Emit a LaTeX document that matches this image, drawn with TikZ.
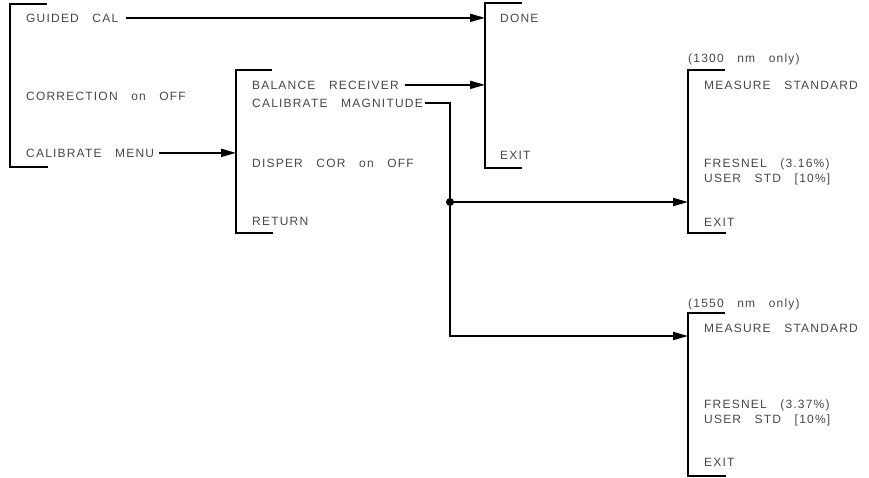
\documentclass[tikz,border=0pt]{standalone}
\usepackage{fontspec}
\usepackage{tikz}
\usetikzlibrary{arrows.meta,calc}
\newfontfamily\plotfont[LetterSpace=10,WordSpace=3]{Liberation Sans}
\definecolor{plotgray}{gray}{0.28}
\tikzset{
  menubar/.style={draw=black, line width=2pt},
  flow/.style={draw=black, line width=2pt, -{Triangle[length=15pt,width=8pt]}},
  key/.style={anchor=base west, inner sep=0pt, text=plotgray, font=\plotfont\fontsize{12}{14}\selectfont}
}

\begin{document}
\begin{tikzpicture}[x=1pt,y=-1pt]
      \useasboundingbox (0,0) rectangle (869,477);
      % menu brackets
      \draw[menubar] (47,4) -| (10,167) -- (48,167);
      \draw[menubar] (272,70) -| (236,233) -- (273,233);
      \draw[menubar] (522,3) -| (485,168) -- (522,168);
      \draw[menubar] (725,70) -| (688,233) -- (726,233);
      \draw[menubar] (725,313) -| (688,476) -- (726,476);
      \coordinate (calmenu) at (236,70);
      \coordinate (done) at (485,3);
      \coordinate (m1300) at (688,70);
      \coordinate (m1550) at (688,313);
      \coordinate (split) at (450,202);
      \coordinate (turn) at (450,336);
      % softkeys
      \node[key] (guided) at (26,22) {GUIDED CAL};
      \node[key] (correct) at (26,100) {CORRECTION on OFF};
      \node[key] (calmnu) at (26,157) {CALIBRATE MENU};
      \node[key] (balance) at (252,89) {BALANCE RECEIVER};
      \node[key] (calmag) at (252,107) {CALIBRATE MAGNITUDE};
      \node[key] (disper) at (252,167) {DISPER COR on OFF};
      \node[key] (return) at (252,225) {RETURN};
      \node[key] (donekey) at (500,22) {DONE};
      \node[key] (exitdone) at (500,159) {EXIT};
      \node[key] (only1300) at (688,62) {(1300 nm only)};
      \node[key] (meas1300) at (704,89) {MEASURE STANDARD};
      \node[key] (fres1300) at (704,167) {FRESNEL (3.16\%)};
      \node[key] (user1300) at (704,182) {USER STD [10\%]};
      \node[key] (exit1300) at (704,226) {EXIT};
      \node[key] (only1550) at (688,307) {(1550 nm only)};
      \node[key] (meas1550) at (704,332) {MEASURE STANDARD};
      \node[key] (fres1550) at (704,408) {FRESNEL (3.37\%)};
      \node[key] (user1550) at (704,423) {USER STD [10\%]};
      \node[key] (exit1550) at (704,466) {EXIT};
      % connectors
      \draw[flow, shorten <=8pt] (guided.east) -- (guided.east -| done);
      \draw[flow, shorten <=5pt] (calmnu.east) -- (calmnu.east -| calmenu);
      \draw[flow, shorten <=6pt] (balance.east) -- (balance.east -| done);
      \draw[flow, shorten <=2pt] (calmag.east) -| (turn) -- (turn -| m1550);
      \draw[flow] (split) -- (split -| m1300);
      \fill (split) circle (4pt);
\end{tikzpicture}
\end{document}
